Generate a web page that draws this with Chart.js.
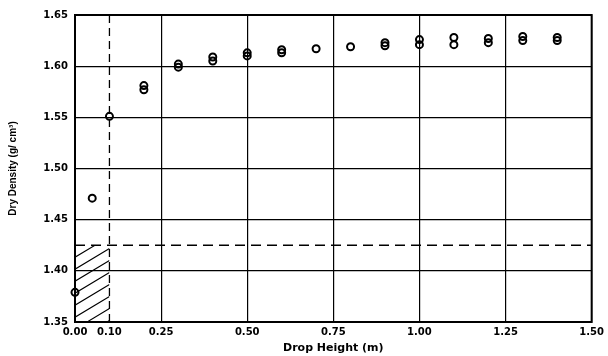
<!DOCTYPE html>
<html>
<head>
<meta charset="utf-8">
<script src="https://cdn.jsdelivr.net/npm/chart.js@4"></script>
<style>
  html, body { margin: 0; padding: 0; background: #fff; }
  #wrap { width: 608px; height: 356px; }
</style>
</head>
<body>
<div id="wrap"><canvas id="densityChart"></canvas></div>
<script>
// drop heights (m) and the readings at each height (second reading where two rings overlap)
const dropHeight = [0.00, 0.05, 0.10, 0.20, 0.30, 0.40, 0.50, 0.60, 0.70, 0.80, 0.90, 1.00, 1.10, 1.20, 1.30, 1.40];
const density1   = [1.379, 1.471, 1.551, 1.581, 1.602, 1.609, 1.613, 1.616, 1.617, 1.619, 1.623, 1.626, 1.628, 1.627, 1.629, 1.628];
const density2   = [null, null, null, 1.577, 1.599, 1.605, 1.610, 1.613, null, null, 1.620, 1.621, 1.621, 1.623, 1.625, 1.625];

const xTicks = [0, 0.10, 0.25, 0.50, 0.75, 1.00, 1.25, 1.50];
const yMin = 1.35, yMax = 1.65, yStep = 0.05;

// reference limits: minimum drop height and target density
const limitHeight = 0.10;
const limitDensity = 1.425;

const toPoints = (ys) => dropHeight.map((x, i) => ({x: x, y: ys[i]})).filter(p => p.y !== null);

// diagonal hatch in the box below the limits
const hatchZone = {
  id: 'hatchZone',
  beforeDatasetsDraw(chart) {
    const {ctx, scales: {x, y}} = chart;
    const x0 = x.getPixelForValue(0), x1 = x.getPixelForValue(limitHeight);
    const yTop = y.getPixelForValue(limitDensity), yBot = y.getPixelForValue(yMin);
    const slope = 0.6, gap = 12;
    ctx.save();
    ctx.beginPath();
    ctx.rect(x0, yTop, x1 - x0, yBot - yTop);
    ctx.clip();
    ctx.strokeStyle = '#000';
    ctx.lineWidth = 1.1;
    ctx.beginPath();
    for (let k = yTop; k <= yBot + (x1 - x0) * slope + gap; k += gap) {
      ctx.moveTo(x0, k);
      ctx.lineTo(x1, k - (x1 - x0) * slope);
    }
    ctx.stroke();
    ctx.restore();
  }
};

const chartAreaBorder = {
  id: 'chartAreaBorder',
  afterDatasetsDraw(chart) {
    const {ctx, chartArea: {left, top, width, height}} = chart;
    ctx.save();
    ctx.strokeStyle = '#000';
    ctx.lineWidth = 2;
    ctx.strokeRect(left, top, width, height);
    ctx.restore();
  }
};

const ctx = document.getElementById('densityChart').getContext('2d');

const ringStyle = {
  type: 'scatter',
  showLine: false,
  clip: 6,
  pointStyle: 'circle',
  pointRadius: 3.5,
  pointBorderWidth: 2,
  borderColor: '#000',
  backgroundColor: 'rgba(0,0,0,0)',
  pointBackgroundColor: 'rgba(0,0,0,0)'
};

new Chart(ctx, {
  type: 'scatter',
  data: {
    datasets: [
      Object.assign({label: 'reading 1', data: toPoints(density1)}, ringStyle),
      Object.assign({label: 'reading 2', data: toPoints(density2)}, ringStyle),
      {
        type: 'line',
        label: 'min height',
        data: [{x: limitHeight, y: yMin}, {x: limitHeight, y: yMax}],
        borderColor: '#000',
        borderWidth: 1.3,
        borderDash: [8, 5],
        pointRadius: 0,
        fill: false
      },
      {
        type: 'line',
        label: 'target density',
        data: [{x: 0, y: limitDensity}, {x: 1.5, y: limitDensity}],
        borderColor: '#000',
        borderWidth: 1.3,
        borderDash: [10, 6],
        pointRadius: 0,
        fill: false
      }
    ]
  },
  options: {
    responsive: true,
    maintainAspectRatio: false,
    animation: false,
    layout: {
      padding: {left: 0, top: 15, right: 16, bottom: 0}
    },
    plugins: {
      legend: {display: false},
      tooltip: {enabled: false}
    },
    scales: {
      x: {
        type: 'linear',
        min: 0,
        max: 1.5,
        afterBuildTicks(scale) {
          scale.ticks = xTicks.map(v => ({value: v}));
        },
        afterFit(scale) { scale.height = 34; },
        border: {display: false},
        grid: {
          drawTicks: false,
          lineWidth: 1.2,
          color: (c) => (c.tick && Math.abs(c.tick.value - limitHeight) < 1e-6) ? 'rgba(0,0,0,0)' : '#000'
        },
        ticks: {
          padding: 4,
          maxRotation: 0,
          autoSkip: false,
          color: '#000',
          font: {family: 'DejaVu Sans', weight: 'bold', size: 10},
          callback: (v) => Number(v).toFixed(2)
        },
        title: {
          display: true,
          text: 'Drop Height (m)',
          color: '#000',
          padding: {top: 0, bottom: 1},
          font: {family: 'DejaVu Sans', weight: 'bold', size: 11}
        }
      },
      y: {
        min: yMin,
        max: yMax,
        afterFit(scale) { scale.width = 75; },
        border: {display: false},
        grid: {
          drawTicks: false,
          lineWidth: 1.2,
          color: '#000'
        },
        ticks: {
          stepSize: yStep,
          padding: 7,
          color: '#000',
          font: {family: 'DejaVu Sans', weight: 'bold', size: 10},
          callback: (v) => Number(v).toFixed(2)
        },
        title: {
          display: true,
          text: 'Dry Density (g/ cm³)',
          color: '#000',
          padding: {top: 7, bottom: 0},
          font: {family: "'Liberation Sans Narrow', 'Liberation Sans'", weight: 'bold', size: 10}
        }
      }
    }
  },
  plugins: [hatchZone, chartAreaBorder]
});
</script>
</body>
</html>
